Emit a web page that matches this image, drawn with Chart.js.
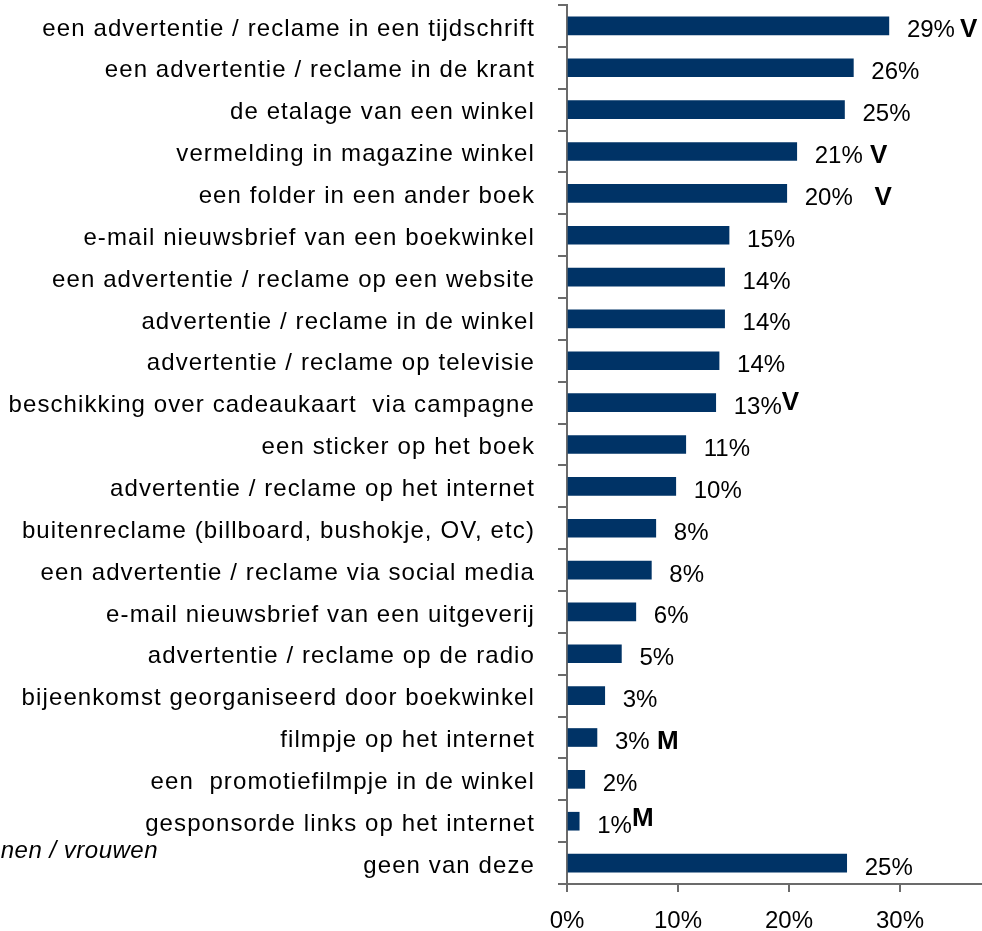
<!DOCTYPE html>
<html><head><meta charset="utf-8">
<script src="https://cdn.jsdelivr.net/npm/chart.js@4.4.1/dist/chart.umd.min.js"></script>
<style>html,body{margin:0;padding:0;background:#fff;overflow:hidden}canvas{display:block}</style>
</head><body>
<canvas id="c" width="982" height="931" style="width:982px;height:931px"></canvas>
<script>
const categories = [
  'een advertentie / reclame in een tijdschrift',
  'een advertentie / reclame in de krant',
  'de etalage van een winkel',
  'vermelding in magazine winkel',
  'een folder in een ander boek',
  'e-mail nieuwsbrief van een boekwinkel',
  'een advertentie / reclame op een website',
  'advertentie / reclame in de winkel',
  'advertentie / reclame op televisie',
  'beschikking over cadeaukaart  via campagne',
  'een sticker op het boek',
  'advertentie / reclame op het internet',
  'buitenreclame (billboard, bushokje, OV, etc)',
  'een advertentie / reclame via social media',
  'e-mail nieuwsbrief van een uitgeverij',
  'advertentie / reclame op de radio',
  'bijeenkomst georganiseerd door boekwinkel',
  'filmpje op het internet',
  'een  promotiefilmpje in de winkel',
  'gesponsorde links op het internet',
  'geen van deze'
];
const values = [29.0, 25.8, 25.0, 20.7, 19.8, 14.6, 14.2, 14.2, 13.7, 13.4, 10.7, 9.8, 8.0, 7.6, 6.2, 4.9, 3.4, 2.7, 1.6, 1.1, 25.2];
const valueLabels = ['29%','26%','25%','21%','20%','15%','14%','14%','14%','13%','11%','10%','8%','8%','6%','5%','3%','3%','2%','1%','25%'];
const markers = ['V','','',' V','   V','','','','','V','','','','','','','',' M','','M',''];
const xTicks = [0, 10, 20, 30];
const noteText = 'mannen / vrouwen';

const FONT = "'Liberation Sans', Arial, sans-serif";
const AXIS = '#6b6b6b';

const labelPlugin = {
  id: 'valueLabels',
  beforeDraw(chart) {
    const s = chart.scales.y;
    if (s && !s._lsPatched) {
      const orig = s.drawLabels;
      s.drawLabels = function (a) {
        const c = this.ctx; c.save(); c.letterSpacing = '1.1px'; orig.call(this, a); c.restore();
      };
      s._lsPatched = true;
    }
  },
  afterDatasetsDraw(chart, args, opts) {
    const ctx = chart.ctx;
    const meta = chart.getDatasetMeta(0);
    ctx.save();
    ctx.fillStyle = '#000';
    ctx.textAlign = 'left';
    ctx.textBaseline = 'alphabetic';
    meta.data.forEach((bar, i) => {
      const x = bar.x + opts.gap;
      const y = bar.y + opts.baseline;
      ctx.font = '24px ' + FONT;
      ctx.fillText(valueLabels[i], x, y);
      if (markers[i]) {
        const w = ctx.measureText(valueLabels[i]).width;
        ctx.font = 'bold 26px ' + FONT;
        const raise = opts.raise[i] || 0;
        ctx.fillText(markers[i], x + w + (opts.shift[i] || 0), y - raise);
      }
    });
    ctx.font = 'italic 24px ' + FONT;
    ctx.textAlign = 'right';
    ctx.letterSpacing = '0.5px';
    ctx.fillText(noteText, 158, 858);
    ctx.restore();
  }
};

new Chart(document.getElementById('c'), {
  type: 'bar',
  data: {
    labels: categories,
    datasets: [{
      data: values,
      backgroundColor: '#003366',
      borderWidth: 0,
      barThickness: 18
    }]
  },
  options: {
    indexAxis: 'y',
    responsive: false,
    animation: false,
    devicePixelRatio: 1,
    layout: { padding: { top: 5, right: 1, left: 0, bottom: 0 } },
    plugins: {
      legend: { display: false },
      tooltip: { enabled: false },
      title: { display: false },
      valueLabels: { gap: 18, baseline: 11.5, raise: { 9: 4, 19: 7 }, shift: { 0: 5 } }
    },
    scales: {
      x: {
        type: 'linear',
        min: 0,
        max: 37.3,
        afterBuildTicks(scale) { scale.ticks = xTicks.map(v => ({ value: v })); },
        afterFit(scale) { scale.height = 47; scale.paddingLeft = 0; scale.paddingRight = 0; },
        grid: { drawOnChartArea: false, drawTicks: true, tickLength: 8, color: AXIS, lineWidth: 2 },
        border: { display: true, color: AXIS, width: 2 },
        ticks: {
          color: '#000',
          font: { family: FONT, size: 24 },
          padding: 15,
          maxRotation: 0,
          autoSkip: false,
          callback: (v) => v + '%'
        }
      },
      y: {
        type: 'category',
        offset: true,
        afterFit(scale) { scale.width = 567; scale.paddingTop = 0; scale.paddingBottom = 0; },
        grid: { offset: true, drawOnChartArea: false, drawTicks: true, tickLength: 9, color: AXIS, lineWidth: 2 },
        border: { display: true, color: AXIS, width: 2 },
        ticks: {
          color: '#000',
          font: { family: FONT, size: 24 },
          padding: 23,
          labelOffset: 3,
          autoSkip: false
        }
      }
    }
  },
  plugins: [labelPlugin]
});
</script>
</body></html>
